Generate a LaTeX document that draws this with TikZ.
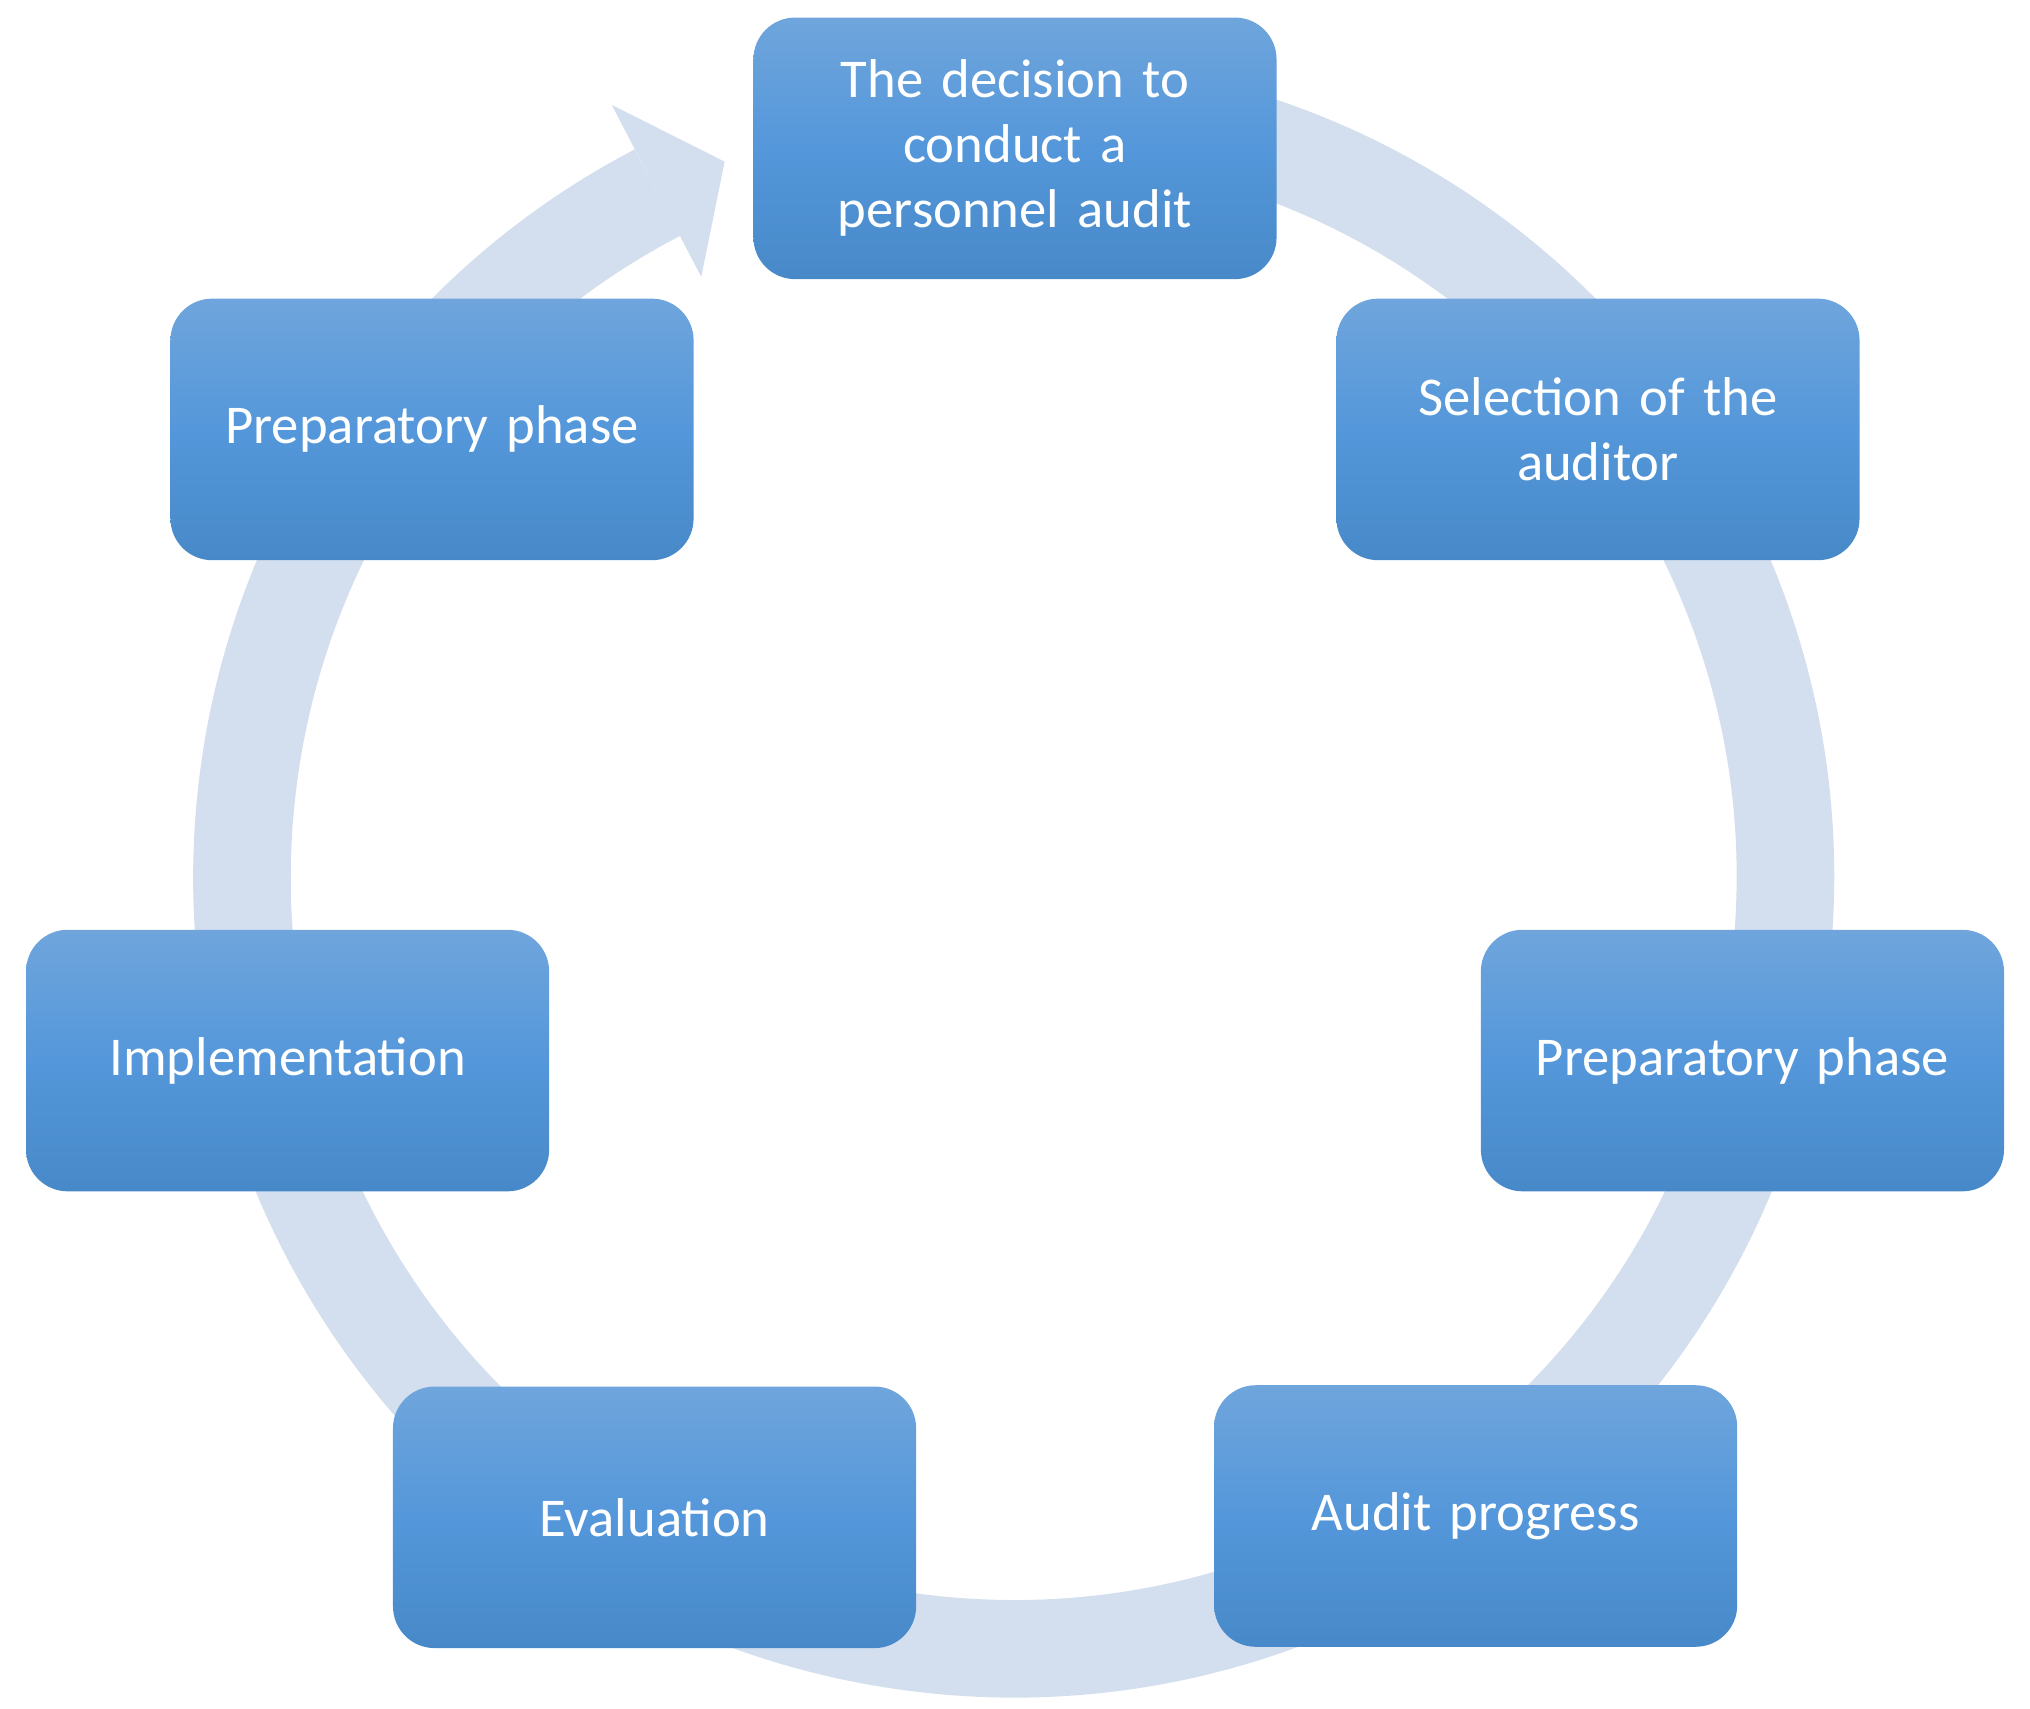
\documentclass[tikz,border=0pt]{standalone}
\usepackage{fontspec}
\setmainfont{Carlito}
\begin{document}
\begin{tikzpicture}[x=1pt,y=-1pt,
  box/.style={rounded corners=32pt,top color=boxtop,bottom color=boxbot,middle color=boxmid,
    minimum width=402pt,minimum height=201pt,inner sep=0pt,text=white,align=center,
    font=\fontsize{42}{50}\selectfont,text width=360pt}]
\definecolor{boxtop}{HTML}{6FA5DC}
\definecolor{boxmid}{HTML}{5497DA}
\definecolor{boxbot}{HTML}{4789C8}
\definecolor{ring}{HTML}{D3DFEF}
\useasboundingbox (0,0) rectangle (1560,1313);
\coordinate (c) at (779,674);
% ring
\draw[ring,line width=75pt] ([shift={(82:593pt)}]c) arc[start angle=82,end angle=-242.5,radius=593pt];
\fill[ring] ([shift={(117.5:669pt)}]c) -- ([shift={(112:593pt)}]c) -- ([shift={(117.5:520pt)}]c) -- cycle;
\node[box] (a) at (780,114) {The decision to\\conduct a\\personnel audit};
\node[box] (b) at (1228,330) {Selection of the\\auditor};
\node[box] (d) at (1339,815) {Preparatory phase};
\node[box] (e) at (1134,1165) {Audit progress};
\node[box] (f) at (503,1166) {Evaluation};
\node[box] (g) at (221,815) {Implementation};
\node[box] (h) at (332,330) {Preparatory phase};
\end{tikzpicture}
\end{document}
